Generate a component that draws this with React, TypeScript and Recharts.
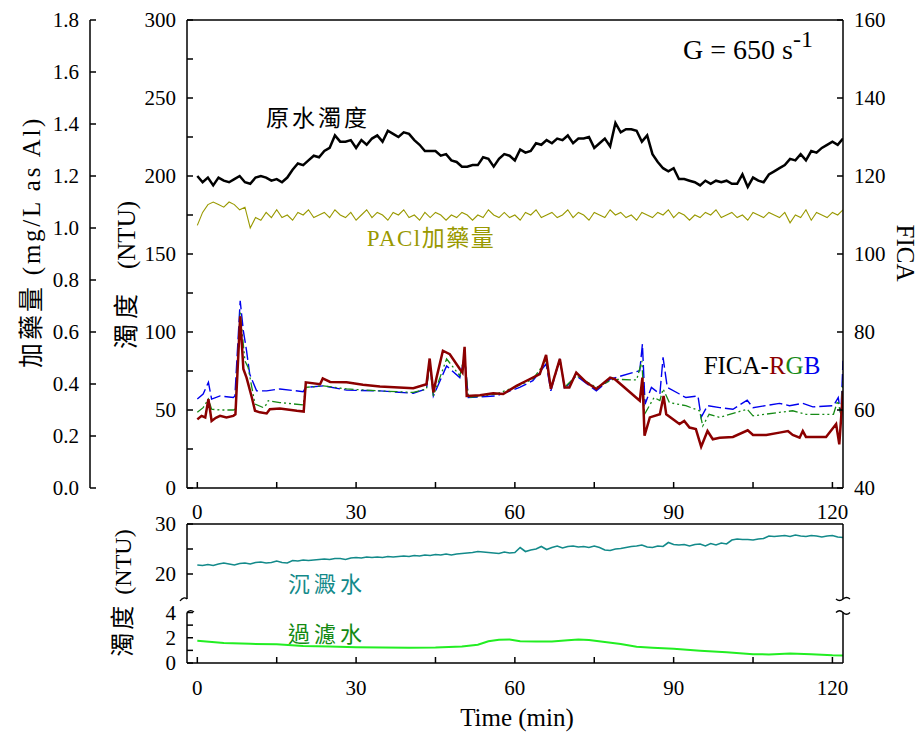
import React from "react";
import { ComposedChart, Line, XAxis, YAxis, ReferenceLine } from "recharts";

const SERIF = '"Liberation Serif", "DejaVu Serif", serif';
const CJK = '"Noto Sans CJK TC", "Noto Sans CJK SC", sans-serif';
const INK = "#000";
const OLIVE = "#999900";
const TEAL = "#138a8a";
const LIME = "#22ee22";
const DARK_GREEN = "#138a13";
const RED = "#8b0000";
const GREEN = "#168a16";
const BLUE = "#0000ee";

// time axis (min)
const X_DOMAIN: [number, number] = [-1.95, 122];
const X_TICKS = [0, 15, 30, 45, 60, 75, 90, 105, 120];
const X_LABELS = [0, 30, 60, 90, 120];

const TURB_TICKS = [0, 25, 50, 75, 100, 125, 150, 175, 200, 225, 250, 275, 300];
const TURB_LABELS = [0, 50, 100, 150, 200, 250, 300];
const PACL_TICKS = [0, 0.2, 0.4, 0.6, 0.8, 1.0, 1.2, 1.4, 1.6, 1.8];
const FICA_TICKS = [40, 60, 80, 100, 120, 140, 160];
const SED_TICKS = [20, 25, 30];
const SED_LABELS = [20, 30];
const FIL_TICKS = [0, 1, 2, 3, 4];
const FIL_LABELS = [0, 2, 4];

// raw water turbidity (NTU), one value per minute from t = 0
const RAW = [
  200, 196, 199, 194, 199, 197, 196, 198, 200, 196,
  195, 199, 200, 199, 197, 198, 196, 199, 204, 208,
  207, 210, 213, 212, 216, 218, 226, 222, 222, 223,
  218, 223, 220, 224, 226, 222, 229, 227, 225, 228,
  227, 223, 220, 216, 216, 216, 213, 214, 210, 209,
  206, 206, 207, 207, 212, 211, 206, 211, 214, 213,
  210, 217, 215, 216, 221, 220, 223, 221, 224, 223,
  226, 221, 224, 224, 225, 218, 221, 224, 219, 234,
  228, 230, 230, 229, 222, 226, 214, 209, 205, 203,
  205, 198, 198, 197, 196, 194, 197, 195, 197, 196,
  197, 195, 195, 201, 193, 199, 197, 196, 201, 203,
  205, 207, 211, 210, 214, 210, 216, 215, 218, 220,
  222, 220, 224,
];

// PACl dosage (mg/L as Al), one value per minute
const PACL = [
  1.01, 1.06, 1.09, 1.10, 1.09, 1.08, 1.10, 1.09, 1.07, 1.08,
  1.00, 1.04, 1.03, 1.06, 1.04, 1.07, 1.04, 1.05, 1.03, 1.06,
  1.05, 1.07, 1.04, 1.05, 1.06, 1.04, 1.07, 1.05, 1.04, 1.06,
  1.03, 1.05, 1.07, 1.04, 1.06, 1.05, 1.03, 1.06, 1.05, 1.07,
  1.04, 1.05, 1.03, 1.06, 1.04, 1.06, 1.05, 1.03, 1.05, 1.04,
  1.06, 1.05, 1.03, 1.05, 1.04, 1.07, 1.05, 1.04, 1.06, 1.04,
  1.05, 1.03, 1.06, 1.05, 1.07, 1.04, 1.05, 1.06, 1.04, 1.05,
  1.07, 1.04, 1.06, 1.05, 1.03, 1.06, 1.05, 1.04, 1.07, 1.05,
  1.06, 1.04, 1.05, 1.03, 1.06, 1.05, 1.04, 1.06, 1.05, 1.07,
  1.04, 1.06, 1.05, 1.03, 1.05, 1.04, 1.06, 1.05, 1.07, 1.04,
  1.05, 1.06, 1.04, 1.05, 1.03, 1.06, 1.05, 1.04, 1.06, 1.05,
  1.04, 1.06, 1.02, 1.05, 1.04, 1.07, 1.03, 1.06, 1.05, 1.04,
  1.06, 1.05, 1.07,
];

// FICA R / G / B
const R_T = [0, 0.8, 1.5, 2.1, 2.7, 3.5, 4.3, 5.5, 6.8, 7.2, 8.1, 8.7, 9.3, 10.3, 10.9, 11.8, 13.1, 13.7, 15.6, 18.8, 20.1, 20.5, 23.2, 23.7, 25.1, 28.2, 31.3, 34.5, 40.8, 43.3, 43.9, 44.6, 45.2, 46.4, 47.7, 49.6, 50.1, 50.5, 50.9, 53.4, 55.9, 57.8, 60.3, 62.2, 63.4, 64.7, 65.9, 66.8, 68.5, 69.4, 70.3, 71.6, 73.5, 75.4, 78, 78.9, 83.6, 84.1, 84.5, 85.5, 87.4, 88.1, 88.6, 91.1, 92, 93, 94.2, 95.2, 96.4, 97.4, 98.7, 101.2, 104, 105, 107.5, 110, 111.6, 112.5, 113.8, 114.4, 115, 118.8, 120.7, 121.3, 122];
const R_V = [57.6, 58.5, 58.1, 62.8, 57.2, 58.0, 58.5, 58.1, 58.5, 58.9, 84.0, 70.5, 68.3, 63.2, 59.8, 59.4, 59.1, 60.2, 60.4, 59.8, 59.6, 67.1, 66.6, 68.1, 67.2, 67.1, 66.5, 66.0, 65.6, 66.6, 73.2, 64.5, 68.3, 75.2, 74.3, 70.5, 69.6, 76.2, 63.6, 63.8, 64.3, 64.1, 66.2, 67.5, 68.3, 69.2, 74.1, 65.4, 73.1, 65.8, 65.8, 69.6, 67.1, 65.4, 68.3, 67.9, 62.4, 68.3, 53.4, 58.1, 58.9, 63.6, 58.9, 56.4, 57.2, 55.5, 55.1, 50.6, 54.6, 52.5, 52.9, 53.1, 54.8, 53.6, 53.6, 54.2, 54.6, 53.6, 52.9, 54.6, 53.1, 53.1, 56.4, 51.2, 64.9];

const G_T = [0, 1.1, 2.1, 2.7, 4.3, 6.8, 7.2, 8.1, 9.0, 9.6, 10.9, 12.5, 13.1, 13.4, 15.6, 20.0, 20.5, 23.8, 28.2, 34.5, 40.8, 43.3, 43.9, 44.6, 47.1, 49.6, 50.5, 51.2, 56.5, 60.3, 63.4, 65.9, 66.8, 68.5, 69.4, 71.6, 75.4, 78.6, 83, 84, 84.5, 86.3, 87.4, 88, 89.2, 92.3, 94.9, 95.5, 96.7, 98.7, 103.9, 105, 110, 112.5, 115, 120.2, 121, 121.6, 122];
const G_V = [59.4, 60.6, 62.8, 60.2, 60.0, 60.0, 60.2, 85.0, 72.6, 70.9, 61.5, 60.6, 61.5, 62.4, 61.9, 61.3, 65.8, 66.2, 65.4, 64.9, 64.5, 65.4, 71.8, 63.6, 73.1, 68.8, 73.9, 63.2, 64.1, 66.0, 67.9, 72.6, 65.8, 73.1, 65.8, 68.8, 65.8, 67.9, 67.7, 72.6, 58.9, 63.2, 62.4, 65.4, 61.9, 61.1, 59.8, 55.9, 58.9, 58.1, 60.2, 58.5, 59.4, 59.8, 58.9, 58.9, 62.4, 58.9, 68.3];

const B_T = [0, 1.1, 2.1, 2.7, 4.3, 6.8, 7.1, 8.1, 8.7, 9.3, 9.9, 11.2, 13.1, 15.6, 20.0, 20.5, 23.8, 28.2, 34.5, 40.8, 43.3, 43.9, 44.6, 47.1, 49.6, 50.5, 51.2, 56.5, 60.9, 63.4, 65.9, 66.8, 68.5, 69.4, 71.6, 75.4, 78, 83.6, 84.1, 84.6, 85.8, 87.4, 88, 88.8, 91.1, 92.3, 94.6, 95.2, 96.4, 98.7, 101.2, 103.9, 105, 110, 111.9, 114.4, 116.3, 120.2, 121.1, 121.6, 122];
const B_V = [62.8, 64.1, 67.1, 62.8, 63.6, 63.2, 63.6, 88.0, 80.3, 75.2, 69.2, 64.9, 64.9, 65.4, 64.7, 65.8, 66.2, 65.1, 64.9, 64.3, 65.4, 72.6, 63.6, 71.3, 68.3, 73.5, 63.2, 63.6, 65.8, 67.5, 71.8, 64.9, 73.1, 65.4, 68.8, 64.9, 67.9, 70.1, 76.9, 61.5, 65.8, 64.1, 73.5, 65.8, 64.1, 63.2, 63.6, 58.1, 61.1, 60.6, 60.2, 62.5, 60.6, 61.7, 61.1, 61.7, 60.8, 61.1, 63.2, 58.9, 72.6];

// settled water turbidity (NTU), one value per minute
const SED = [
  21.8, 21.7, 21.9, 21.7, 22.0, 22.2, 22.0, 21.8, 22.1, 22.2,
  22.0, 22.3, 22.4, 22.2, 22.3, 22.6, 22.3, 22.2, 22.7, 22.6,
  22.8, 22.7, 22.8, 22.9, 23.0, 22.9, 23.1, 23.1, 22.9, 23.2,
  23.3, 23.2, 23.4, 23.3, 23.4, 23.3, 23.5, 23.4, 23.5, 23.6,
  23.5, 23.7, 23.6, 23.8, 23.7, 23.9, 23.8, 24.0, 23.8, 24.0,
  24.1, 24.2, 24.3, 24.5, 24.4, 24.3, 24.2, 24.1, 24.4, 24.2,
  24.3, 25.3, 24.5, 24.8, 25.0, 25.5, 24.9, 25.3, 25.6, 25.2,
  25.5, 25.6, 25.4, 25.5, 25.3, 25.6, 25.3, 24.8, 24.7, 25.0,
  25.1, 25.3, 25.5, 25.6, 25.8, 25.4, 25.3, 25.6, 25.5, 26.3,
  25.9, 25.8, 25.9, 25.6, 25.9, 26.0, 25.6, 26.1, 25.8, 26.2,
  26.0, 26.8, 27.0, 26.9, 26.9, 26.8, 27.0, 27.1, 27.6, 27.5,
  27.6, 27.7, 27.5, 27.8, 27.6, 27.5, 27.7, 27.6, 27.4, 27.6,
  27.7, 27.4, 27.3,
];

// filtered water turbidity (NTU)
const F_T = [0, 5, 10, 15, 20, 25, 30, 35, 40, 45, 50, 53, 55, 57, 59, 61, 64, 67, 70, 72, 74, 77, 80, 83, 86, 90, 95, 100, 105, 108, 112, 116, 120, 122];
const F_V = [1.76, 1.58, 1.52, 1.48, 1.35, 1.30, 1.25, 1.22, 1.20, 1.22, 1.30, 1.45, 1.72, 1.84, 1.86, 1.72, 1.70, 1.70, 1.80, 1.87, 1.83, 1.66, 1.50, 1.28, 1.20, 1.12, 0.98, 0.85, 0.70, 0.68, 0.76, 0.70, 0.62, 0.60];

const perMinute = (vals: number[]) => vals.map((v, i) => ({ t: i, v }));
const pairs = (ts: number[], vs: number[]) => ts.map((t, i) => ({ t, v: vs[i] }));

const has = (list: number[], v: number) => list.some((l) => Math.abs(l - v) < 1e-6);

const leftTick = (labels: number[], fmt: (v: number) => string = String) => (p: any) => {
  const v = p.payload.value;
  return (
    <g>
      <line x1={p.x} x2={p.x + 6} y1={p.y} y2={p.y} stroke={INK} strokeWidth={1.5} />
      {has(labels, v) && (
        <text x={p.x - 11} y={p.y} dy="0.35em" textAnchor="end" fontSize={21} fontFamily={SERIF} fill={INK}>
          {fmt(v)}
        </text>
      )}
    </g>
  );
};

const rightTick = (p: any) => (
  <g>
    <line x1={p.x} x2={p.x - 6} y1={p.y} y2={p.y} stroke={INK} strokeWidth={1.5} />
    <text x={p.x + 11} y={p.y} dy="0.35em" textAnchor="start" fontSize={21} fontFamily={SERIF} fill={INK}>
      {p.payload.value}
    </text>
  </g>
);

const bottomTick = (offset: number) => (p: any) => {
  const v = p.payload.value;
  return (
    <g>
      <line x1={p.x} x2={p.x} y1={p.y} y2={p.y - 6} stroke={INK} strokeWidth={1.5} />
      {has(X_LABELS, v) && (
        <text x={p.x} y={p.y + offset} textAnchor="middle" fontSize={21} fontFamily={SERIF} fill={INK}>
          {v}
        </text>
      )}
    </g>
  );
};

const AXIS_LINE = { stroke: INK, strokeWidth: 1.5 };

function Txt({ x, y, rot = 0, size = 21, color = INK, spacing = 0, children }: any) {
  return (
    <div
      style={{
        position: "absolute",
        left: x,
        top: y,
        transform: `translate(-50%, -50%) rotate(${rot}deg)`,
        whiteSpace: "nowrap",
        fontFamily: SERIF,
        fontSize: size,
        color,
        letterSpacing: spacing,
        lineHeight: 1,
      }}
    >
      {children}
    </div>
  );
}

const Cjk = ({ children, spacing }: any) => (
  <span style={{ fontFamily: CJK, letterSpacing: spacing }}>{children}</span>
);

function MainChart() {
  return (
    <ComposedChart width={920} height={530} margin={{ top: 20, right: 0, bottom: 0, left: 0 }}>
      <XAxis
        type="number"
        dataKey="t"
        domain={X_DOMAIN}
        allowDataOverflow
        ticks={X_TICKS}
        interval={0}
        height={42}
        tickSize={0}
        tickMargin={0}
        tickLine={false}
        tick={bottomTick(31)}
        axisLine={AXIS_LINE}
      />
      {/* left axes are stacked by id: "a_turb" sits next to the plot, "b_pacl" outside it */}
      <YAxis
        yAxisId="a_turb"
        orientation="left"
        width={97}
        domain={[0, 300]}
        ticks={TURB_TICKS}
        interval={0}
        tickSize={0}
        tickMargin={0}
        tickLine={false}
        tick={leftTick(TURB_LABELS)}
        axisLine={AXIS_LINE}
      />
      <YAxis
        yAxisId="b_pacl"
        orientation="left"
        width={90}
        domain={[0, 1.8]}
        ticks={PACL_TICKS}
        interval={0}
        tickSize={0}
        tickMargin={0}
        tickLine={false}
        tick={leftTick(PACL_TICKS, (v) => v.toFixed(1))}
        axisLine={AXIS_LINE}
      />
      <YAxis
        yAxisId="fica"
        orientation="right"
        width={77}
        domain={[40, 160]}
        ticks={FICA_TICKS}
        interval={0}
        tickSize={0}
        tickMargin={0}
        tickLine={false}
        tick={rightTick}
        axisLine={AXIS_LINE}
      />
      <ReferenceLine yAxisId="a_turb" y={300} stroke={INK} strokeWidth={1.5} />
      <Line data={perMinute(RAW)} dataKey="v" yAxisId="a_turb" type="linear" stroke={INK} strokeWidth={2.5} dot={false} isAnimationActive={false} />
      <Line data={perMinute(PACL)} dataKey="v" yAxisId="b_pacl" type="linear" stroke={OLIVE} strokeWidth={1.1} dot={false} isAnimationActive={false} />
      <Line data={pairs(B_T, B_V)} dataKey="v" yAxisId="fica" type="linear" stroke={BLUE} strokeWidth={1.4} strokeDasharray="13 4" dot={false} isAnimationActive={false} />
      <Line data={pairs(G_T, G_V)} dataKey="v" yAxisId="fica" type="linear" stroke={GREEN} strokeWidth={1.3} strokeDasharray="9 3 2 3 2 3" dot={false} isAnimationActive={false} />
      <Line data={pairs(R_T, R_V)} dataKey="v" yAxisId="fica" type="linear" stroke={RED} strokeWidth={2.5} dot={false} isAnimationActive={false} />
    </ComposedChart>
  );
}

function SettledChart() {
  return (
    <ComposedChart width={920} height={110} margin={{ top: 34, right: 0, bottom: 1, left: 0 }}>
      <XAxis type="number" dataKey="t" domain={X_DOMAIN} allowDataOverflow hide />
      <YAxis
        yAxisId="l"
        orientation="left"
        width={187}
        domain={[15, 30]}
        ticks={SED_TICKS}
        interval={0}
        tickSize={0}
        tickMargin={0}
        tickLine={false}
        tick={leftTick(SED_LABELS)}
        axisLine={AXIS_LINE}
      />
      <YAxis yAxisId="r" orientation="right" width={77} domain={[15, 30]} tick={false} tickLine={false} axisLine={AXIS_LINE} />
      <ReferenceLine yAxisId="l" y={30} stroke={INK} strokeWidth={1.5} />
      <Line data={perMinute(SED)} dataKey="v" yAxisId="l" type="linear" stroke={TEAL} strokeWidth={1.6} dot={false} isAnimationActive={false} />
    </ComposedChart>
  );
}

function FilteredChart() {
  return (
    <ComposedChart width={920} height={133} margin={{ top: 12.5, right: 0, bottom: 0, left: 0 }}>
      <XAxis
        type="number"
        dataKey="t"
        domain={X_DOMAIN}
        allowDataOverflow
        ticks={X_TICKS}
        interval={0}
        height={70}
        tickSize={0}
        tickMargin={0}
        tickLine={false}
        tick={bottomTick(32)}
        axisLine={AXIS_LINE}
      />
      <YAxis
        yAxisId="l"
        orientation="left"
        width={187}
        domain={[0, 4]}
        ticks={FIL_TICKS}
        interval={0}
        tickSize={0}
        tickMargin={0}
        tickLine={false}
        tick={leftTick(FIL_LABELS)}
        axisLine={AXIS_LINE}
      />
      <YAxis yAxisId="r" orientation="right" width={77} domain={[0, 4]} tick={false} tickLine={false} axisLine={AXIS_LINE} />
      <Line data={pairs(F_T, F_V)} dataKey="v" yAxisId="l" type="linear" stroke={LIME} strokeWidth={2} dot={false} isAnimationActive={false} />
    </ComposedChart>
  );
}

export default function App() {
  return (
    <div style={{ position: "absolute", left: 0, top: 0, width: 920, height: 733, background: "#fff", fontFamily: SERIF }}>
      <div style={{ position: "absolute", left: 0, top: 0 }}>
        <MainChart />
      </div>
      <div style={{ position: "absolute", left: 0, top: 490 }}>
        <SettledChart />
      </div>
      <div style={{ position: "absolute", left: 0, top: 600 }}>
        <FilteredChart />
      </div>
      <svg width={920} height={733} style={{ position: "absolute", left: 0, top: 0, pointerEvents: "none" }}>
        <g fill="none" stroke={INK} strokeWidth={1.3}>
          <path d="M180,601 Q183.5,596 187,599" />
          <path d="M187,612.5 Q190.5,609 194,612" />
          <path d="M836,599 Q839.5,602 843,599 Q846.5,596 850,599" />
          <path d="M836,612.5 Q839.5,609 843,612.5 Q846.5,616 850,612.5" />
        </g>
      </svg>

      <Txt x={30} y={242} rot={-90} size={25} spacing={2.7}>
        <Cjk spacing={3}>加藥量</Cjk> (mg/L as Al)
      </Txt>
      <Txt x={125} y={275} rot={-90} size={25}>
        <Cjk spacing={5}>濁度</Cjk>
        <span style={{ display: "inline-block", width: 20 }} />
        (NTU)
      </Txt>
      <Txt x={905} y={253} rot={90} size={25}>FICA</Txt>
      <Txt x={122} y={593} rot={-90} size={24}>
        <Cjk spacing={3}>濁度</Cjk>
        <span style={{ display: "inline-block", width: 8 }} />
        (NTU)
      </Txt>

      <Txt x={748} y={50} size={28}>
        G = 650 s<sup style={{ fontSize: 24, verticalAlign: "0.5em", lineHeight: 0 }}>-1</sup>
      </Txt>
      <Txt x={318} y={117} size={23}>
        <Cjk spacing={3}>原水濁度</Cjk>
      </Txt>
      <Txt x={431} y={237} size={23} spacing={1.5} color={OLIVE}>
        PACl<Cjk>加藥量</Cjk>
      </Txt>
      <Txt x={762} y={365} size={25}>
        FICA-<span style={{ color: RED }}>R</span>
        <span style={{ color: GREEN }}>G</span>
        <span style={{ color: BLUE }}>B</span>
      </Txt>
      <Txt x={327} y={583} size={22} color={TEAL}>
        <Cjk spacing={4}>沉澱水</Cjk>
      </Txt>
      <Txt x={327} y={633} size={22} color={DARK_GREEN}>
        <Cjk spacing={4}>過濾水</Cjk>
      </Txt>
      <Txt x={517} y={717} size={25}>Time (min)</Txt>
    </div>
  );
}
